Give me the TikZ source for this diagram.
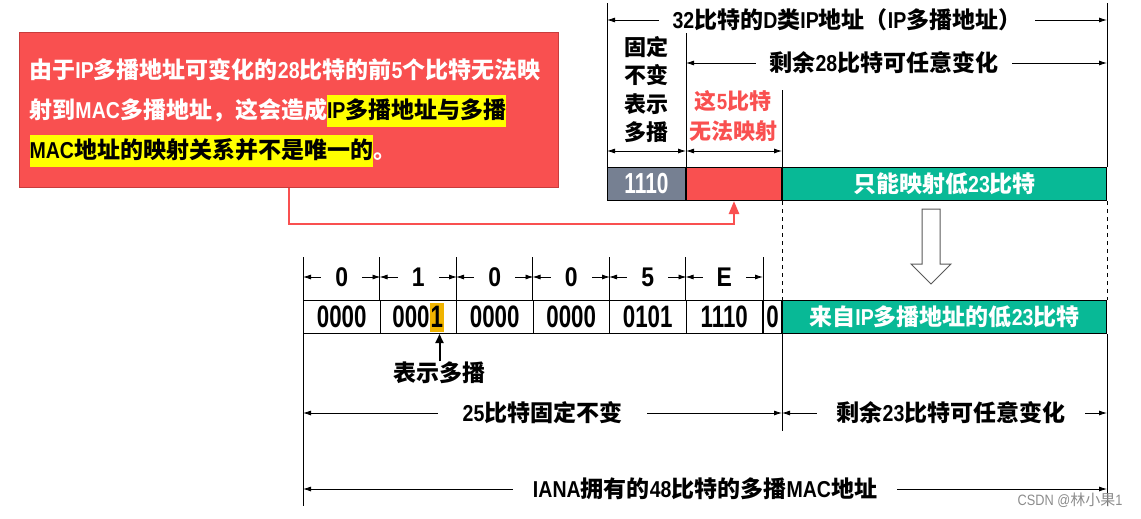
\documentclass[tikz,border=0pt]{standalone}
\usepackage{fontspec}
\setmainfont{Liberation Sans}[FakeStretch=0.85]
\newfontfamily\latfont{Liberation Sans}[FakeStretch=0.85]
\newfontfamily\bitfont{Liberation Sans}[FakeStretch=0.72]
\newfontfamily\cjkfont{Noto Sans CJK SC}
\usetikzlibrary{arrows.meta,positioning}

\definecolor{slate}{RGB}{118,128,146}
\definecolor{ipred}{RGB}{249,80,80}
\definecolor{noteedge}{RGB}{200,60,60}
\definecolor{mgreen}{RGB}{8,185,150}
\definecolor{hlyellow}{RGB}{255,255,0}
\definecolor{bitorange}{RGB}{240,180,0}

% switch to the CJK font for ideographs and full-width punctuation
\newcount\cjkcode
\cjkcode="4E00
\loop
  \XeTeXcharclass\cjkcode=7
  \advance\cjkcode by 1
\ifnum\cjkcode<"A000 \repeat
\XeTeXcharclass"FF08=7 \XeTeXcharclass"FF09=7
\XeTeXcharclass"FF0C=7 \XeTeXcharclass"3002=7
\XeTeXinterchartokenstate=1
\XeTeXinterchartoks 0 7 = {\cjkfont}
\XeTeXinterchartoks 255 7 = {\cjkfont}
\XeTeXinterchartoks 4095 7 = {\cjkfont}
\XeTeXinterchartoks 7 0 = {\latfont}

\newcommand{\hl}[1]{{\setlength{\fboxsep}{0pt}\colorbox{hlyellow}{\latfont\color{black}\rule[-9pt]{0pt}{32pt}#1}}}
\newcommand{\onebit}{{\setlength{\fboxsep}{1pt}\colorbox{bitorange}{\rule[-3pt]{0pt}{27pt}1}}}

\begin{document}
\begin{tikzpicture}[x=1pt,y=-1pt,line width=1pt,
	every node/.style={font=\bfseries\fontsize{23}{26}\selectfont, inner sep=0pt},
	cell/.style={draw, anchor=north west, minimum height=33pt},
	bits/.style={font=\bitfont\bfseries\fontsize{31}{33}\selectfont},
	dim/.style={{Latex[length=8pt,width=5pt]}-{Latex[length=8pt,width=5pt]}, line width=0.8pt},
	gap/.style={fill=white, inner xsep=14pt, inner ysep=2pt},
	link/.style={draw=ipred, line width=2.5pt, -{Triangle[length=13pt,width=10pt]}},
	hollow/.style={draw=black!65, fill=white, line width=1pt}]
	\useasboundingbox (0,0) rectangle (1141,519);

	% IP multicast address
	\node[cell, fill=slate, text=white, minimum width=78pt, font=\bitfont\bfseries\fontsize{29}{30}\selectfont] (fix) at (607,167) {1110};
	\node[cell, fill=ipred, minimum width=95pt] (nomap) at (fix.north east) {};
	\node[cell, fill=mgreen, text=white, minimum width=324pt] (low) at (nomap.north east) {只能映射低23比特};

	\draw (fix.north west) -- ++(0,-164);
	\draw (low.north east) -- ++(0,-164);
	\draw (nomap.north west) -- ++(0,-134);
	\draw (nomap.north east) -- ++(0,-77);

	\draw[dim] (fix.north west |- 0,20) -- node[gap, pos=0.48]{32比特的D类IP地址（IP多播地址）} (low.north east |- 0,20);
	\draw[dim] (nomap.north west |- 0,63) -- node[gap, pos=0.47]{剩余28比特可任意变化} (low.north east |- 0,63);
	\draw[dim] (fix.north west |- 0,151) -- (fix.north east |- 0,151);
	\draw[dim] (nomap.north west |- 0,151) -- (nomap.north east |- 0,151);

	\node[align=center, font=\bfseries\fontsize{22}{28.3}\selectfont] (fixtxt) at (646,89.5) {固定\\不变\\表示\\多播};
	\node[align=center, text=ipred, font=\bfseries\fontsize{22}{30}\selectfont] (warn) at (733,116) {这5比特\\无法映射};

	% note
	\node[draw=noteedge, fill=ipred, minimum width=539pt, minimum height=155pt, anchor=north west] (note) at (19,32) {};
	\node[anchor=west, align=left, text=white, font=\bfseries\fontsize{23}{40}\selectfont] (notetxt) at ([xshift=10pt,yshift=-3pt]note.west)
		{由于IP多播地址可变化的28比特的前5个比特无法映\\射到MAC多播地址，这会造成\hl{IP多播地址与多播}\\\hl{MAC地址的映射关系并不是唯一的}。};
	\draw[link] (note.south) -- ++(0,36) -| (nomap.south);

	\draw[hollow] (922,209) -- (940,209) -- (940,264) -- (951,264) -- (931,284) -- (911,264) -- (922,264) -- cycle;

	% MAC address
	\foreach \b [count=\i] in {0000,{000\onebit},0000,0000,0101,1110}
		\node[cell, bits, minimum width=76.5pt] (b\i) at ({303+(\i-1)*76.5},300) {\b};
	\node[cell, bits, minimum width=18pt] (b7) at (b6.north east) {0};
	\node[cell, fill=mgreen, text=white, minimum width=324pt] (from) at (b7.north east) {来自IP多播地址的低23比特};

	\foreach \i in {1,...,6}
		\draw (b\i.north west) -- ++(0,-43);
	\draw (b6.north east) -- ++(0,-43);
	\foreach \h [count=\i] in {0,1,0,0,5,E}
		\draw[dim] (b\i.north west |- 0,277) -- node[gap, font=\bfseries\fontsize{27}{29}\selectfont]{\h} (b\i.north east |- 0,277);

	\draw[dashed, dash pattern=on 4pt off 4pt] (low.south west) -- (from.north west);
	\draw[dashed, dash pattern=on 4pt off 4pt] (low.south east) -- (from.north east);
	\draw (b1.south west) -- ++(0,172);
	\draw (from.south west) -- ++(0,97);
	\draw (from.south east) -- ++(0,172);

	\node (mc) at (439.5,373) {表示多播};
	\draw[-{Triangle[length=9pt,width=8pt]}, line width=2pt] (mc.north) -- (mc.north |- b2.south);

	\draw[dim] (b1.south west |- 0,413) -- node[gap, inner xsep=25pt]{25比特固定不变} (from.south west |- 0,413);
	\draw[dim] (from.south west |- 0,413) -- node[gap, pos=0.52, inner xsep=20pt]{剩余23比特可任意变化} (from.south east |- 0,413);
	\draw[dim] (b1.south west |- 0,489) -- node[gap, inner xsep=20pt]{IANA拥有的48比特的多播MAC地址} (from.south east |- 0,489);

	\node[text=black!45, font=\fontsize{15}{17}\selectfont] (mark) at (1070,500) {CSDN @林小果1};
\end{tikzpicture}
\end{document}
